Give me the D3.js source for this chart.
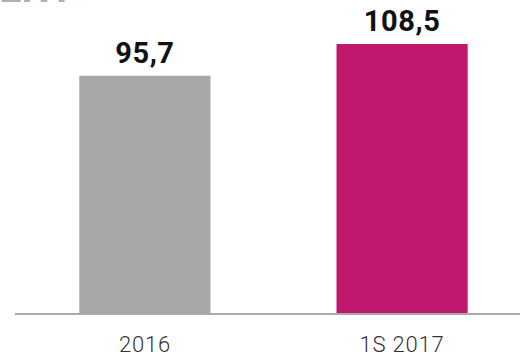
<!DOCTYPE html>
<html>
<head>
<meta charset="utf-8">
<script src="https://cdn.jsdelivr.net/npm/d3@7/dist/d3.min.js"></script>
<style>
  html, body { margin: 0; padding: 0; background: #fff; }
  svg { display: block; }
</style>
</head>
<body>
<svg id="chart" width="520" height="359"></svg>
<script>
// Chart data
const categories = ["2016", "1S 2017"];
const values = [95.7, 108.5];
const valueLabels = ["95,7", "108,5"];
const barColors = ["#a7a7a9", "#c0186c"];
const titleText = "ENT";

const width = 520, height = 359;
const svg = d3.select("#chart");

const baseY = 313;
const x = d3.scaleBand()
  .domain(categories)
  .range([15, 532])
  .paddingInner(0.49)
  .paddingOuter(0.25);

const y = d3.scaleLinear()
  .domain([0, 108.5])
  .range([baseY, 44]);

// Title, mostly above the top edge
svg.append("text")
  .attr("x", -1)
  .attr("y", 2)
  .attr("font-family", "Roboto")
  .attr("font-weight", 700)
  .attr("font-size", 40)
  .attr("fill", "#b0b0b0")
  .text(titleText);

// Bars
svg.selectAll("rect.bar")
  .data(values)
  .join("rect")
  .attr("class", "bar")
  .attr("x", (d, i) => x(categories[i]))
  .attr("width", x.bandwidth())
  .attr("y", d => y(d))
  .attr("height", d => baseY - y(d))
  .attr("fill", (d, i) => barColors[i]);

// Value labels
svg.selectAll("text.val")
  .data(values)
  .join("text")
  .attr("class", "val")
  .attr("x", (d, i) => x(categories[i]) + x.bandwidth() / 2)
  .attr("y", d => y(d) - 13)
  .attr("text-anchor", "middle")
  .attr("font-family", "Roboto")
  .attr("font-weight", 700)
  .attr("font-size", 29)
  .attr("letter-spacing", 0.6)
  .attr("fill", "#111")
  .text((d, i) => valueLabels[i]);

// Baseline axis
const axis = d3.axisBottom(x).tickSize(0).tickPadding(22);
const g = svg.append("g")
  .attr("transform", `translate(0,${baseY + 1})`)
  .call(axis);
g.select(".domain")
  .attr("d", `M15,0H520`)
  .attr("stroke", "#aaaaaa")
  .attr("stroke-width", 2);
g.selectAll(".tick text")
  .attr("font-family", "Roboto")
  .attr("font-weight", 300)
  .attr("font-size", 22)
  .attr("letter-spacing", 0.8)
  .attr("fill", "#333")
  .attr("dy", "0.71em");
</script>
</body>
</html>
